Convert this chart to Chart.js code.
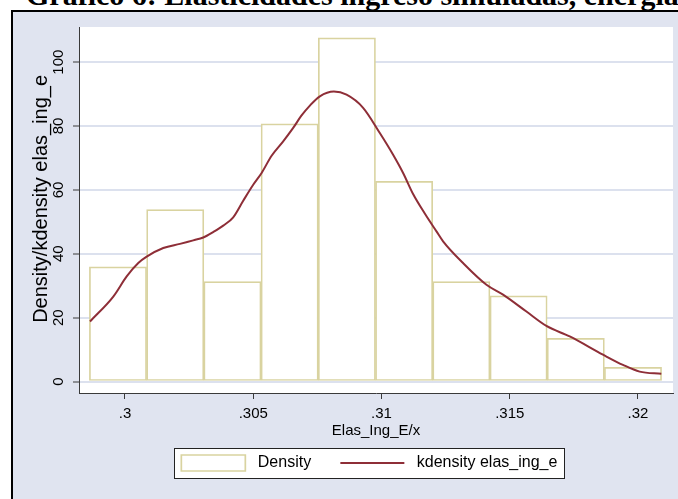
<!DOCTYPE html>
<html>
<head>
<meta charset="utf-8">
<script src="https://cdn.jsdelivr.net/npm/chart.js@4.4.1/dist/chart.umd.min.js"></script>
<style>
    html, body { margin: 0; padding: 0; background: #FFFFFF; overflow: hidden; }
    body { width: 678px; height: 499px; position: relative; }
    #title { position: absolute; left: 26px; top: -20px; font: bold 30px/30px 'Liberation Serif', 'Times New Roman', serif; white-space: nowrap; color: #000; }
    #frame { position: absolute; left: 11px; top: 10px; width: 690px; height: 510px; border: 2px solid #000; background: #E0E4F0; }
    #wrap { position: absolute; left: 0; top: 0; width: 678px; height: 499px; }
</style>
</head>
<body>
<div id="title">Gráfico 6: Elasticidades ingreso simuladas, energía</div>
<div id="frame"></div>
<div id="wrap"><canvas id="hist"></canvas></div>
<script>
// histogram bins (centre of each bin) and their density
const binCenters = [0.299727, 0.301958, 0.304189, 0.306420, 0.308651, 0.310882, 0.313113, 0.315344, 0.317575, 0.319805];
const densityValues = [35.9, 53.8, 31.3, 80.7, 107.6, 62.7, 31.3, 26.8, 13.5, 4.4];

// kernel density curve
const kdensityX = [0.298636, 0.299544, 0.300066, 0.300518, 0.300845, 0.301492, 0.302143, 0.302661, 0.303051, 0.303440,
    0.303830, 0.304219, 0.304609, 0.304999, 0.305326, 0.305716, 0.306168, 0.306557, 0.306884, 0.307208,
    0.307597, 0.308143, 0.308638, 0.309284, 0.309935, 0.310453, 0.310843, 0.311232, 0.311688, 0.312144,
    0.312401, 0.313180, 0.314092, 0.314739, 0.315651, 0.316430, 0.317338, 0.318635, 0.319414, 0.320065, 0.320910];
const kdensityY = [18.8, 26.6, 32.9, 37.1, 39.1, 41.8, 43.1, 44.2, 45.1, 46.8,
    48.8, 51.4, 56.6, 61.6, 65.3, 70.7, 75.2, 79.4, 83.3, 86.4,
    89.3, 90.8, 89.8, 85.7, 77.8, 71.0, 65.3, 58.7, 52.6, 47.0,
    43.9, 37.1, 30.3, 27.2, 21.9, 17.4, 14.1, 8.4, 5.2, 3.1, 2.4];

const xTickValues = [0.3, 0.305, 0.31, 0.315, 0.32];
const yTickValues = [0, 20, 40, 60, 80, 100];

const barColor = '#D9D3A0';
const lineColor = '#8E2E37';
const axisColor = '#3A3A3A';
const gridColor = '#DCE1EE';

const histCanvas = document.getElementById('hist');

// white plot region and the boxed legend, painted before the chart itself
const backdropPlugin = {
    id: 'backdrop',
    beforeDraw(chart) {
        const ctx = chart.ctx;
        const area = chart.chartArea;
        ctx.save();
        ctx.fillStyle = '#FFFFFF';
        ctx.fillRect(area.left, area.top, area.right - area.left, area.bottom - area.top);
        const legend = chart.legend;
        const boxes = legend.legendHitBoxes;
        if(boxes && boxes.length) {
            const labels = legend.options.labels;
            const fontSize = labels.font.size;
            ctx.font = fontSize + "px 'Liberation Sans', Arial, sans-serif";
            const first = boxes[0];
            const last = boxes[boxes.length - 1];
            const lastText = legend.legendItems[boxes.length - 1].text.trimEnd();
            const lastRight = last.left + labels.boxWidth + fontSize / 2 + ctx.measureText(lastText).width;
            const x0 = Math.round(first.left - 7) + 0.5;
            const x1 = Math.round(lastRight + 7) + 0.5;
            const y0 = Math.round(first.top - 7) + 0.5;
            const y1 = Math.round(first.top + first.height + 7) + 0.5;
            ctx.fillStyle = '#FFFFFF';
            ctx.fillRect(x0, y0, x1 - x0, y1 - y0);
            ctx.strokeStyle = '#222222';
            ctx.lineWidth = 1;
            ctx.strokeRect(x0, y0, x1 - x0, y1 - y0);
        }
        ctx.restore();
    }
};

Chart.defaults.font.family = "'Liberation Sans', Arial, sans-serif";
Chart.defaults.color = '#000000';

const histSettings = {
    type: 'bar',
    data: {
        datasets: [
            {
                type: 'line',
                label: 'kdensity elas_ing_e',
                data: kdensityX.map((x, i) => ({ x: x, y: kdensityY[i] })),
                borderColor: lineColor,
                borderWidth: 2,
                pointRadius: 0,
                cubicInterpolationMode: 'monotone',
                fill: false,
                order: 0
            },
            {
                type: 'bar',
                label: 'Density',
                data: binCenters.map((x, i) => ({ x: x, y: densityValues[i] })),
                backgroundColor: '#FFFFFF',
                borderColor: barColor,
                borderWidth: 1.7,
                borderSkipped: false,
                barPercentage: 1,
                categoryPercentage: 1,
                order: 1
            }
        ]
    },
    options: {
        responsive: true,
        maintainAspectRatio: false,
        devicePixelRatio: 1,
        animation: false,
        layout: {
            padding: { left: 13, right: 5, top: 27, bottom: 18 }
        },
        scales: {
            x: {
                type: 'linear',
                offset: false,
                min: 0.298207,
                max: 0.321365,
                afterBuildTicks: (scale) => {
                    scale.ticks = xTickValues.map(v => ({ value: v }));
                },
                afterFit: (scale) => {
                    scale.height = 55;
                },
                ticks: {
                    font: { size: 15 },
                    padding: 6,
                    maxRotation: 0,
                    callback: (v) => String(+v.toFixed(3)).replace(/^0/, '')
                },
                grid: {
                    display: true,
                    offset: false,
                    drawOnChartArea: false,
                    drawTicks: true,
                    tickLength: 6,
                    tickColor: axisColor,
                    tickWidth: 1
                },
                border: { display: true, color: axisColor, width: 1 },
                title: {
                    display: true,
                    text: 'Elas_Ing_E/x',
                    font: { size: 15 },
                    padding: { top: 0, bottom: 8 }
                }
            },
            y: {
                min: -3.6,
                max: 111,
                afterBuildTicks: (scale) => {
                    scale.ticks = yTickValues.map(v => ({ value: v }));
                },
                afterFit: (scale) => {
                    scale.width = 66;
                },
                ticks: {
                    font: { size: 15 },
                    padding: 2,
                    minRotation: 90,
                    maxRotation: 90,
                    crossAlign: 'center'
                },
                grid: {
                    color: gridColor,
                    lineWidth: 2,
                    drawTicks: true,
                    tickLength: 6,
                    tickColor: axisColor,
                    tickWidth: 1
                },
                border: { display: true, color: axisColor, width: 1 },
                title: {
                    display: true,
                    // leading spaces lift the centred title a little, as in the original
                    text: '    Density/kdensity elas_ing_e',
                    font: { size: 20 },
                    padding: { top: 16, bottom: 0 }
                }
            }
        },
        plugins: {
            tooltip: { enabled: false },
            legend: {
                position: 'bottom',
                fullSize: false,
                onClick: null,
                labels: {
                    usePointStyle: true,
                    pointStyleWidth: 64,
                    boxWidth: 64,
                    boxHeight: 16,
                    padding: 7,
                    font: { size: 16 },
                    generateLabels: () => [
                        {
                            text: ' Density     ',
                            fillStyle: '#FFFFFF',
                            strokeStyle: barColor,
                            lineWidth: 1.7,
                            pointStyle: 'rect',
                            hidden: false,
                            datasetIndex: 1
                        },
                        {
                            text: ' kdensity elas_ing_e   ',
                            fillStyle: lineColor,
                            strokeStyle: lineColor,
                            lineWidth: 2,
                            pointStyle: 'line',
                            hidden: false,
                            datasetIndex: 0
                        }
                    ]
                }
            }
        }
    },
    plugins: [backdropPlugin]
};

const histChart = new Chart(histCanvas, histSettings);
</script>
</body>
</html>
